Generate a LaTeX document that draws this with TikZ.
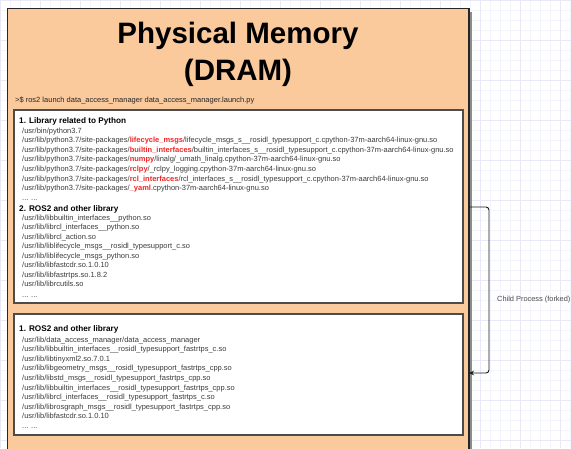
\documentclass[tikz,border=0pt]{standalone}
\usepackage{fontspec}
\setmainfont{Liberation Sans}
\usetikzlibrary{arrows.meta}

\definecolor{peach}{RGB}{250,201,156}
\definecolor{hlred}{RGB}{242,38,38}
\definecolor{gridminor}{RGB}{244,244,252}
\definecolor{gridmajor}{RGB}{232,232,247}
\definecolor{pathgray}{RGB}{60,60,60}

% bold red package names inside a path
\newcommand\hlp[1]{{\bfseries\color{hlred}#1}}

\tikzset{
  membox/.style={draw=black!85, line width=1.8pt, fill=peach},
  libbox/.style={draw=black!70, line width=1.3pt, fill=white},
  boxshadow/.style={fill=black!45, draw=none},
  titletext/.style={font=\fontsize{29.5}{32}\selectfont\bfseries, anchor=base, inner sep=0pt},
  cmdtext/.style={font=\fontsize{7.5}{8}\selectfont, anchor=base west, inner sep=0pt, text=black!85},
  headtext/.style={font=\fontsize{8.2}{9}\selectfont\bfseries, anchor=base west, inner sep=0pt},
  pathtext/.style={font=\fontsize{7.5}{8}\selectfont, anchor=base west, inner sep=0pt, text=pathgray},
  forkarrow/.style={draw=black!90, line width=0.9pt, rounded corners=3pt, -{Stealth[length=5pt,width=4.5pt]}},
  notetext/.style={font=\fontsize{7.4}{8}\selectfont, anchor=base west, inner sep=0pt, text=black!70}
}

\begin{document}
\begin{tikzpicture}[x=1pt, y=-1pt]
\useasboundingbox (0,0) rectangle (571,448);

% canvas grid
\begin{scope}
  \clip (0,0) rectangle (571,448);
  \foreach \g in {0,10,...,570} \draw[gridminor, line width=0.5pt] (\g,0) -- (\g,448);
  \foreach \g in {0,10,...,450} \draw[gridminor, line width=0.5pt] (0,\g) -- (571,\g);
  \foreach \g in {0,40,...,570} \draw[gridmajor, line width=0.6pt] (\g,0) -- (\g,448);
  \foreach \g in {0,40,...,450} \draw[gridmajor, line width=0.6pt] (0,\g) -- (571,\g);
\end{scope}

% physical memory block
\fill[boxshadow] (10.5,11.5) rectangle (472,470);
\draw[membox] (7.5,8.5) rectangle (469,470);

\node[titletext] (title1) at (238,43.5) {Physical Memory};
\node[titletext] (title2) at (238,80.5) {(DRAM)};

\node[cmdtext] (cmd) at (15,102.5) {>\$ ros2 launch data\_access\_manager data\_access\_manager.launch.py};

% parent process libraries
\fill[boxshadow] (15,111) rectangle (464,304);
\draw[libbox] (14,110) rectangle (463,303);

\node[headtext] (pyhead) at (19,123.5) {1. Library related to Python};
\foreach \t [count=\i] in {
  {/usr/bin/python3.7},
  {/usr/lib/python3.7/site-packages/\hlp{lifecycle\_msgs}/lifecycle\_msgs\_s\_\_rosidl\_typesupport\_c.cpython-37m-aarch64-linux-gnu.so},
  {/usr/lib/python3.7/site-packages/\hlp{builtin\_interfaces}/builtin\_interfaces\_s\_\_rosidl\_typesupport\_c.cpython-37m-aarch64-linux-gnu.so},
  {/usr/lib/python3.7/site-packages/\hlp{numpy}/linalg/\_umath\_linalg.cpython-37m-aarch64-linux-gnu.so},
  {/usr/lib/python3.7/site-packages/\hlp{rclpy}/\_rclpy\_logging.cpython-37m-aarch64-linux-gnu.so},
  {/usr/lib/python3.7/site-packages/\hlp{rcl\_interfaces}/rcl\_interfaces\_s\_\_rosidl\_typesupport\_c.cpython-37m-aarch64-linux-gnu.so},
  {/usr/lib/python3.7/site-packages/\hlp{\_yaml}.cpython-37m-aarch64-linux-gnu.so}}
  \node[pathtext] (py\i) at (22,{133+9.65*(\i-1)}) {\t};
\node[pathtext] (pymore) at (22,200.5) {... ...};

\node[headtext] (roshead) at (19,211) {2. ROS2 and other library};
\foreach \t [count=\i] in {
  {/usr/lib/libbuiltin\_interfaces\_\_python.so},
  {/usr/lib/librcl\_interfaces\_\_python.so},
  {/usr/lib/librcl\_action.so},
  {/usr/lib/liblifecycle\_msgs\_\_rosidl\_typesupport\_c.so},
  {/usr/lib/liblifecycle\_msgs\_python.so},
  {/usr/lib/libfastcdr.so.1.0.10},
  {/usr/lib/libfastrtps.so.1.8.2},
  {/usr/lib/librcutils.so}}
  \node[pathtext] (ros\i) at (22,{220+9.55*(\i-1)}) {\t};
\node[pathtext] (rosmore) at (22,297.5) {... ...};

% forked child process libraries
\fill[boxshadow] (15,315) rectangle (464,436);
\draw[libbox] (14,314) rectangle (463,435);

\node[headtext] (childhead) at (19,331.5) {1. ROS2 and other library};
\foreach \t [count=\i] in {
  {/usr/lib/data\_access\_manager/data\_access\_manager},
  {/usr/lib/libbuiltin\_interfaces\_\_rosidl\_typesupport\_fastrtps\_c.so},
  {/usr/lib/libtinyxml2.so.7.0.1},
  {/usr/lib/libgeometry\_msgs\_\_rosidl\_typesupport\_fastrtps\_cpp.so},
  {/usr/lib/libstd\_msgs\_\_rosidl\_typesupport\_fastrtps\_cpp.so},
  {/usr/lib/libbuiltin\_interfaces\_\_rosidl\_typesupport\_fastrtps\_cpp.so},
  {/usr/lib/librcl\_interfaces\_\_rosidl\_typesupport\_fastrtps\_c.so},
  {/usr/lib/librosgraph\_msgs\_\_rosidl\_typesupport\_fastrtps\_cpp.so},
  {/usr/lib/libfastcdr.so.1.0.10}}
  \node[pathtext] (child\i) at (22,{342.3+9.55*(\i-1)}) {\t};
\node[pathtext] (childmore) at (22,428.5) {... ...};

% fork connector
\coordinate (forkfrom) at (469,207);
\coordinate (forkto) at (469,373);
\draw[forkarrow] (forkfrom) -- ++(20,0) |- (forkto);
\node[notetext] (forknote) at (497,301.5) {Child Process (forked)};
\end{tikzpicture}
\end{document}
